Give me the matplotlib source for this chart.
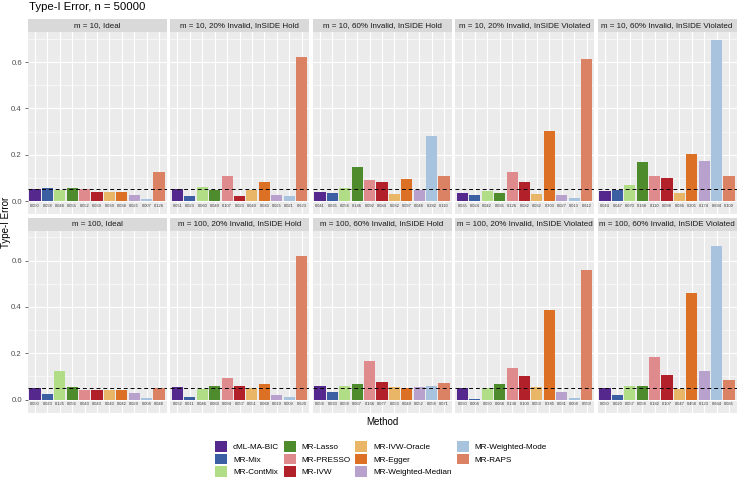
import matplotlib
matplotlib.use("Agg")
import matplotlib.pyplot as plt
from matplotlib.patches import Patch
import numpy as np

plt.rcParams['font.family'] = ['Liberation Sans', 'DejaVu Sans']

# methods and colours (legend order)
methods = ['cML-MA-BIC', 'MR-Mix', 'MR-ContMix', 'MR-Lasso', 'MR-PRESSO', 'MR-IVW',
           'MR-IVW-Oracle', 'MR-Egger', 'MR-Weighted-Median', 'MR-Weighted-Mode', 'MR-RAPS']
colors = ['#55288D', '#3B5FA2', '#B1DD86', '#4E8B2D', '#DF8B8E', '#B2202A',
          '#E9B566', '#DC7126', '#B8A1CD', '#A8C3DE', '#DB8265']

# panel titles
titles_m10 = ['m = 10, Ideal', 'm = 10, 20% Invalid, InSIDE Hold', 'm = 10, 60% Invalid, InSIDE Hold',
              'm = 10, 20% Invalid, InSIDE Violated', 'm = 10, 60% Invalid, InSIDE Violated']
titles_m100 = ['m = 100, Ideal', 'm = 100, 20% Invalid, InSIDE Hold', 'm = 100, 60% Invalid, InSIDE Hold',
               'm = 100, 20% Invalid, InSIDE Violated', 'm = 100, 60% Invalid, InSIDE Violated']

# type-I error values, one list per panel
m10_ideal = [0.050, 0.058, 0.048, 0.056, 0.052, 0.039, 0.039, 0.038, 0.025, 0.007, 0.126]
m10_20_hold = [0.051, 0.023, 0.060, 0.049, 0.107, 0.023, 0.049, 0.083, 0.025, 0.021, 0.623]
m10_60_hold = [0.041, 0.035, 0.058, 0.146, 0.092, 0.084, 0.032, 0.097, 0.048, 0.282, 0.110]
m10_20_viol = [0.035, 0.024, 0.042, 0.035, 0.126, 0.082, 0.032, 0.303, 0.027, 0.013, 0.612]
m10_60_viol = [0.044, 0.047, 0.070, 0.168, 0.110, 0.098, 0.036, 0.205, 0.174, 0.694, 0.109]

m100_ideal = [0.050, 0.023, 0.125, 0.056, 0.043, 0.043, 0.043, 0.042, 0.029, 0.008, 0.048]
m100_20_hold = [0.052, 0.011, 0.046, 0.060, 0.094, 0.057, 0.051, 0.068, 0.019, 0.009, 0.620]
m100_60_hold = [0.058, 0.033, 0.058, 0.067, 0.166, 0.077, 0.053, 0.049, 0.052, 0.058, 0.071]
m100_20_viol = [0.050, 0.004, 0.050, 0.068, 0.138, 0.100, 0.053, 0.385, 0.031, 0.008, 0.559]
m100_60_viol = [0.050, 0.020, 0.057, 0.058, 0.182, 0.107, 0.047, 0.458, 0.123, 0.664, 0.085]

rows = [(titles_m10, [m10_ideal, m10_20_hold, m10_60_hold, m10_20_viol, m10_60_viol]),
        (titles_m100, [m100_ideal, m100_20_hold, m100_60_hold, m100_20_viol, m100_60_viol])]

W, H = 740, 487
fig = plt.figure(figsize=(W / 100, H / 100), dpi=100)


def px_axes(x0, y0, w, h):
    return fig.add_axes([x0 / W, 1 - (y0 + h) / H, w / W, h / H])


col_left = [27.5, 170, 312.5, 455, 597.5]
pw = 139
row_top = [32, 230.5]
ph = 182
sh = 13

x = np.arange(len(methods))
for r, (titles, panels) in enumerate(rows):
    for c in range(5):
        vals = panels[c]
        ax = px_axes(col_left[c], row_top[r], pw, ph)
        ax.set_facecolor('#EBEBEB')
        ax.bar(x, vals, width=0.9, color=colors, zorder=2)
        for xi, v in zip(x, vals):
            ax.text(xi, -0.021, f'{v:.3f}', ha='center', va='center',
                    fontsize=2.9, color='#333333', zorder=3)
        ax.axhline(0.05, color='black', lw=0.7, ls=(0, (4, 3)), zorder=3)
        ax.set_xlim(-0.6, len(methods) - 0.4)
        ax.set_ylim(-0.056, 0.73)
        ax.set_yticks([0, 0.2, 0.4, 0.6])
        ax.set_yticks([0.1, 0.3, 0.5, 0.7], minor=True)
        ax.set_xticks(x)
        ax.grid(which='major', color='white', lw=0.8, zorder=0)
        ax.grid(which='minor', axis='y', color='white', lw=0.4, zorder=0)
        ax.set_axisbelow(True)
        for s in ax.spines.values():
            s.set_visible(False)
        ax.tick_params(axis='x', length=0, labelbottom=False)
        ax.tick_params(axis='y', which='minor', length=0)
        if c == 0:
            ax.tick_params(axis='y', length=2.5, width=0.5, color='#333333',
                           labelsize=5.6, labelcolor='#4D4D4D', pad=1.5)
            ax.set_yticklabels(['0.0', '0.2', '0.4', '0.6'])
        else:
            ax.tick_params(axis='y', length=0, labelleft=False)

        st = px_axes(col_left[c], row_top[r] - sh, pw, sh)
        st.set_facecolor('#D9D9D9')
        st.set_xticks([])
        st.set_yticks([])
        for s in st.spines.values():
            s.set_visible(False)
        st.text(0.5, 0.5, titles[c], ha='center', va='center', fontsize=5.8,
                color='#1A1A1A', transform=st.transAxes)

fig.text(29 / W, 1 - 7 / H, 'Type-I Error, n = 50000', ha='left', va='center',
         fontsize=8.2, color='black')
fig.text(6.5 / W, 1 - 222 / H, 'Type-I Error', rotation=90, ha='center', va='center',
         fontsize=7.0)
fig.text(382 / W, 1 - 422 / H, 'Method', ha='center', va='center', fontsize=7.0)

handles = [Patch(facecolor=col, edgecolor='none') for col in colors]
fig.legend(handles, methods, ncol=4, loc='upper left',
           bbox_to_anchor=(215 / W, 1 - 441 / H), frameon=False, fontsize=5.9,
           handlelength=1.46, handleheight=1.6, handletextpad=0.75,
           columnspacing=0.55, labelspacing=0.25, borderpad=0, borderaxespad=0)

fig.savefig('out.png', dpi=100)
